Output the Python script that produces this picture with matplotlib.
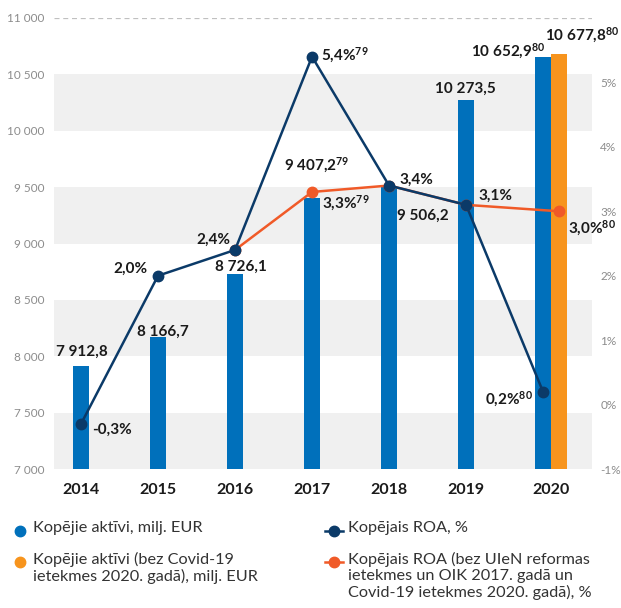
import numpy as np
import matplotlib
matplotlib.use("Agg")
import matplotlib.pyplot as plt
from matplotlib.lines import Line2D

plt.rcParams['font.family'] = ['Lato', 'DejaVu Sans']
plt.rcParams['mathtext.default'] = 'regular'

# dati
years = ['2014', '2015', '2016', '2017', '2018', '2019', '2020']
assets = [7912.8, 8166.7, 8726.1, 9407.2, 9506.2, 10273.5, 10652.9]
assets_notes = [None, None, None, '79', None, None, '80']
assets_excl = 10677.8  # 2020 bez Covid-19
assets_excl_note = '80'
roa = [-0.3, 2.0, 2.4, 5.4, 3.4, 3.1, 0.2]
roa_notes = [None, None, None, '79', None, None, '80']
roa_adj_years = ['2016', '2017', '2018', '2019', '2020']
roa_adj = [2.4, 3.3, 3.4, 3.1, 3.0]
roa_adj_notes = [None, '79', None, None, '80']

left_ticks = [7000, 7500, 8000, 8500, 9000, 9500, 10000, 10500, 11000]
right_ticks = [-1, 0, 1, 2, 3, 4, 5]

legend_labels = ['Kopējie aktīvi, milj. EUR',
                 'Kopējie aktīvi (bez Covid-19\nietekmes 2020. gadā), milj. EUR',
                 'Kopējais ROA, %',
                 'Kopējais ROA (bez UIeN reformas\nietekmes un OIK 2017. gadā un\nCovid-19 ietekmes 2020. gadā), %']

BLUE = '#0070bb'
ORANGE = '#f7941d'
NAVY = '#0b3a68'
RED_OR = '#f05a28'
GREY = '#8c8c8c'
TXT = '#1a1a1a'

W = 0.21  # joslas platums

def num(v):
    return f"{v:,.1f}".replace(",", " ").replace(".", ",")

def pct(v):
    return f"{v:.1f}%".replace(".", ",")

def sup(s, note):
    return s if note is None else s + r'$^{' + note + '}$'

fig = plt.figure(figsize=(6.21, 6.08), dpi=100)
ax = fig.add_axes([54/621, 1 - 469/608, (592-54)/621, (469-18)/608])
ax2 = ax.twinx()

x = np.arange(len(years))
x_adj = np.array([years.index(y) for y in roa_adj_years], dtype=float)
x_adj[-1] += W

# fons
for lo in [7000, 8000, 9000, 10000]:
    ax.axhspan(lo, lo + 500, color='#f0f0f0', zorder=0, lw=0)
ax.axhline(11000, color='#c0c0c0', lw=0.9, ls=(0, (4, 3)), zorder=0)

ax.bar(x, assets, width=W, color=BLUE, zorder=2)
ax.bar(len(years) - 1 + W, assets_excl, width=W, color=ORANGE, zorder=2)

ax2.plot(x_adj, roa_adj, color=RED_OR, lw=1.8, marker='o', ms=7.5, zorder=3)
x_roa = x.astype(float)
ax2.plot(x_roa, roa, color=NAVY, lw=1.8, marker='o', ms=7.5, zorder=4)

ax.set_xlim(-0.351, 6.636)
ax.set_ylim(7000, 11000)
ax2.set_ylim(-1, 6)

ax.set_yticks(left_ticks)
ax.set_yticklabels([f"{t:,}".replace(",", " ") for t in left_ticks])
ax2.set_yticks(right_ticks)
ax2.set_yticklabels([f"{t}%" for t in right_ticks])
xt = list(x[:-1]) + [len(years) - 1 + W / 2]
ax.set_xticks(xt)
ax.set_xticklabels(years, fontsize=11.5, fontweight='bold', color=TXT)

ax.tick_params(axis='y', length=0, pad=7, labelsize=8.5, labelcolor=GREY)
ax2.tick_params(axis='y', length=0, pad=6, labelsize=8.5, labelcolor=GREY)
ax.tick_params(axis='x', length=0, pad=10)
for a in (ax, ax2):
    for s in a.spines.values():
        s.set_visible(False)

lab = dict(fontsize=11, fontweight='bold', color=TXT, ha='center', va='center',
           textcoords='offset pixels', zorder=6)

# joslu vērtības
bar_off = [(1, 14), (5, 6), (6, 8), (5, 32), (34, -29), (-1, 11), (-35, 6)]
for i, v in enumerate(assets):
    ax.annotate(sup(num(v), assets_notes[i]), (x[i], v), xytext=bar_off[i], **lab)
ax.annotate(sup(num(assets_excl), assets_excl_note), (len(years) - 1 + W, assets_excl),
            xytext=(23, 19), **lab)

# ROA vērtības
roa_off = [(31, -6), (-28, 7), (-22, 10), (33, 1), (27, 6), (29, 9), (-34, -8)]
for i, v in enumerate(roa):
    ax2.annotate(sup(pct(v), roa_notes[i]), (x_roa[i], v), xytext=roa_off[i], **lab)
adj_off = {1: (34, -11), 4: (33, -17)}
for i, off in adj_off.items():
    ax2.annotate(sup(pct(roa_adj[i]), roa_adj_notes[i]), (x_adj[i], roa_adj[i]),
                 xytext=off, **lab)

# leģenda
def fx(px):
    return px / 621

def fy(py):
    return 1 - py / 608

leg = dict(fontsize=11.7, color='#333333', va='top', linespacing=1.17)
fig.add_artist(Line2D([fx(20)], [fy(531)], marker='o', ms=7.5, color=BLUE, lw=0))
fig.text(fx(33), fy(521), legend_labels[0], **leg)
fig.add_artist(Line2D([fx(20)], [fy(562)], marker='o', ms=7.5, color=ORANGE, lw=0))
fig.text(fx(33), fy(552), legend_labels[1], **leg)
fig.add_artist(Line2D([fx(325), fx(343)], [fy(531)] * 2, color=NAVY, lw=1.8))
fig.add_artist(Line2D([fx(334)], [fy(531)], marker='o', ms=7.5, color=NAVY, lw=0))
fig.text(fx(348), fy(521), legend_labels[2], **leg)
fig.add_artist(Line2D([fx(325), fx(343)], [fy(562)] * 2, color=RED_OR, lw=1.8))
fig.add_artist(Line2D([fx(334)], [fy(562)], marker='o', ms=7.5, color=RED_OR, lw=0))
fig.text(fx(348), fy(552), legend_labels[3], **leg)

fig.savefig('out.png', dpi=100)
